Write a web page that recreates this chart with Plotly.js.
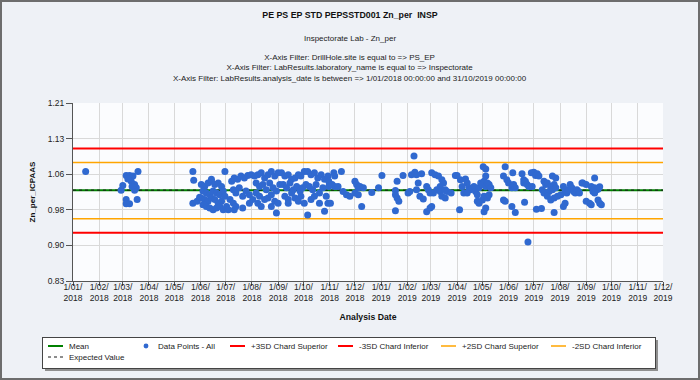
<!DOCTYPE html>
<html><head><meta charset="utf-8">
<script src="https://cdn.plot.ly/plotly-3.0.1.min.js"></script>
<style>html,body{margin:0;padding:0;background:#eef1f6;} #chart{width:700px;height:380px;}</style>
</head><body><div id="chart"></div>
<script>
// ---- Data ----
const startDate = '2018-01-01';
const endDate = '2019-12-01';

const monthTicks = ['2018-01-01','2018-02-01','2018-03-01','2018-04-01','2018-05-01','2018-06-01','2018-07-01','2018-08-01','2018-09-01','2018-10-01','2018-11-01','2018-12-01',
  '2019-01-01','2019-02-01','2019-03-01','2019-04-01','2019-05-01','2019-06-01','2019-07-01','2019-08-01','2019-09-01','2019-10-01','2019-11-01','2019-12-01'];
const monthTickText = ['1/01/<br>2018','1/02/<br>2018','1/03/<br>2018','1/04/<br>2018','1/05/<br>2018','1/06/<br>2018','1/07/<br>2018','1/08/<br>2018','1/09/<br>2018','1/10/<br>2018','1/11/<br>2018','1/12/<br>2018',
  '1/01/<br>2019','1/02/<br>2019','1/03/<br>2019','1/04/<br>2019','1/05/<br>2019','1/06/<br>2019','1/07/<br>2019','1/08/<br>2019','1/09/<br>2019','1/10/<br>2019','1/11/<br>2019','1/12/<br>2019'];

const yTickVals = [0.83, 0.906, 0.982, 1.058, 1.134, 1.21];
const yTickText = ['0.83', '0.90', '0.98', '1.06', '1.13', '1.21'];

// days since 1 Jan 2018 of each analysis
const sampleDay = [
  15,57,59,63,67,71,77,69,73,75,73,63,63,67,76,65,70,142,143,142,147,150,
  152,156,160,164,168,172,176, 154,158,162,166,170,174,178, 152,156,160,164,168,172,176,180, 154,158,162,166,170,174,178,182, 164,180,
  188,191,195,199,203,207,211, 190,193,197,201,205,209, 186,190,193,201,209,213, 184,191,
  215,219,223,227,231,235,239,243, 217,221,225,229,233,237,241,245, 217,221,227,231,235,239,243, 219,223,235,241,
  247,251,255,259,263,267,270,274, 249,253,257,261,265,269,272,276, 251,255,259,263,267,270,274, 255,278,
  278,282,286,290,294,298,302, 280,284,288,292,296,300, 282,286,292,298,302,
  309,310,318,303,307,310,314,303, 320,324,328,305, 334,336,338,340,344,334,338,342, 354,362,366,
  384,382,382,384,386,382, 391,397,399, 401,405,407,413,404, 409,407,411,415, 419,421,423,419,423,425,
  425,429,433,437,439,435,431,427,435,441,437,441,443,448,453,
  455,459,465,467,469,471,461,463,467,458, 475,477,479,481,483,485,487,489,491,493,495, 486,489,489,
  479,481,485,487,491,493, 487,489, 512,510,514,516,520,522,524,521, 510,512,520,524,
  532,534,534,536,538,540,544, 543,546,548,550,552, 535,549,555,539,
  558,560,562,566,570, 556,558,564,568,572, 562,566,570,574,578, 568,572,570,
  581,583,585,587,589,591,593,595,597,599, 581,583,603,
  618,604,608,614,618,620,622,624,616,618,600, 608,612,614,622,624,626
];
const sampleValue = [
  1.064,1.024,1.034,1.055,1.055,1.054,1.064,1.043,1.036,1.029,1.024,1.004,0.995,0.995,1.004,1.048,1.032,1.064,1.045,0.996,1.000,1.009,
  1.036,1.032,1.039,1.043,1.036,1.039,1.032, 1.022,1.018,1.014,1.022,1.018,1.014,1.022, 1.007,1.004,1.000,1.007,1.004,0.996,1.000,1.011, 0.993,0.989,0.986,0.982,0.986,0.989,0.982,0.989, 1.047,1.064,
  1.043,1.050,1.047,1.054,1.050,1.055,1.057, 1.025,1.018,1.029,1.011,1.022,1.014, 1.004,0.996,0.989,0.986,0.996,1.004, 0.982,0.982,
  1.054,1.057,1.061,1.050,1.057,1.064,1.054,1.061, 1.039,1.032,1.036,1.025,1.039,1.029,1.022,1.036, 1.018,1.011,1.004,1.007,1.014,1.000,0.996, 0.996,0.989,0.989,0.975,
  1.061,1.054,1.057,1.047,1.050,1.057,1.054,1.064, 1.036,1.029,1.039,1.025,1.032,1.022,1.029,1.036, 1.011,1.004,1.018,1.007,1.000,1.011,0.996, 0.996,0.971,
  1.064,1.057,1.061,1.050,1.057,1.047,1.054, 1.032,1.025,1.036,1.018,1.029,1.011, 1.004,1.011,0.996,0.979,0.996,
  1.061,1.054,1.064,1.043,1.036,1.032,1.032,1.032, 1.021,1.014,1.011,0.996, 1.043,1.036,1.029,1.032,1.029,1.018,1.014,0.989, 1.019,1.029,1.055,
  1.043,1.023,1.014,1.007,1.000,0.980, 1.055,1.018,1.021, 1.057,1.062,1.057,1.059,1.097, 1.039,1.025,1.011,1.005, 1.032,1.025,1.018,0.978,0.986,0.989,
  1.061,1.057,1.054,1.046,1.039,1.032,1.025,1.018,1.021,1.025,1.011,1.007,1.021,1.018,1.055,
  1.055,1.046,1.048,1.039,1.029,1.025,1.032,1.018,1.018,0.982, 1.032,1.021,1.014,1.029,1.039,1.036,1.043,1.032,1.039,1.036,1.029, 1.074,1.069,1.054,
  1.000,0.996,1.003,1.011,1.007,1.014, 0.978,0.986, 1.074,1.054,1.046,1.039,1.029,1.036,1.029,1.061, 1.003,1.000,0.989,0.976,
  1.059,1.046,1.039,1.043,1.036,1.032,1.032, 1.061,1.062,1.055,1.059,1.054, 0.998,0.983,0.985,0.913,
  1.043,1.036,1.039,1.032,1.036, 1.025,1.018,1.021,1.025,1.029, 1.011,1.003,1.007,1.011,1.014, 1.054,1.050,0.976,
  1.032,1.021,1.018,1.025,1.036,1.029,1.021,1.018,1.025,1.021, 0.989,0.996,1.039,
  1.050,1.039,1.036,1.032,1.029,1.025,1.026,1.031,1.021,1.018,1.018, 1.000,0.996,0.993,1.003,0.996,0.993
];

const meanValue = 1.024;
const expectedValue = 1.024;
const plus3SD = 1.113;
const minus3SD = 0.933;
const plus2SD = 1.083;
const minus2SD = 0.963;

// ---- Build ----
const baseMs = Date.UTC(2018, 0, 1);
const sampleDates = sampleDay.map(d => new Date(baseMs + d * 86400000).toISOString().slice(0, 10));

function hline(name, v, color, width, dash, rank) {
  return {type: 'scatter', mode: 'lines', name: name, x: [startDate, endDate], y: [v, v],
    line: {color: color, width: width, dash: dash}, legendrank: rank, hoverinfo: 'skip'};
}

const traces = [
  hline('+3SD Chard Superior', plus3SD, '#ff0000', 2, 'solid', 3),
  hline('-3SD Chard Inferior', minus3SD, '#ff0000', 2, 'solid', 4),
  hline('+2SD Chard Superior', plus2SD, '#ffa500', 1.5, 'solid', 5),
  hline('-2SD Chard Inferior', minus2SD, '#ffa500', 1.5, 'solid', 6),
  hline('Mean', meanValue, '#008000', 2, 'solid', 1),
  hline('Expected Value', expectedValue, '#1a1a1a', 1, 'dot', 7),
  {type: 'scatter', mode: 'markers', name: 'Data Points - All', x: sampleDates, y: sampleValue,
    marker: {color: '#3069d0', size: 7}, legendrank: 2}
];

const F = 'Liberation Sans, Arial, sans-serif';
const L = 73, T = 103, W = 590, H = 178;
const px = (x) => (x - L) / W;
const py = (y) => (T + H - y) / H;

const layout = {
  width: 700, height: 380,
  margin: {l: L, r: 700 - L - W, t: T, b: 380 - T - H},
  paper_bgcolor: '#eef1f6',
  plot_bgcolor: '#fbfcfe',
  font: {family: F, size: 8.5, color: '#222'},
  title: {text: 'PE PS EP STD PEPSSTD001 Zn_per  INSP', x: 0.5, xref: 'container', xanchor: 'center',
    y: 1 - 15 / 380, yref: 'container', yanchor: 'middle', font: {family: F, size: 8.8, weight: 700, color: '#111'}},
  annotations: [
    {text: 'Inspectorate Lab - Zn_per', xref: 'paper', yref: 'paper', x: px(350), y: py(38),
      xanchor: 'center', yanchor: 'middle', showarrow: false, font: {family: F, size: 8, color: '#222'}},
    {text: 'X-Axis Filter: DrillHole.site is equal to => PS_EP<br>X-Axis Filter: LabResults.laboratory_name is equal to => Inspectorate<br>X-Axis Filter: LabResults.analysis_date is between => 1/01/2018 00:00:00 and 31/10/2019 00:00:00',
      xref: 'paper', yref: 'paper', x: px(350), y: py(68.5), xanchor: 'center', yanchor: 'middle', showarrow: false,
      font: {family: F, size: 8, color: '#222'}}
  ],
  xaxis: {type: 'date', range: [startDate, endDate], tickmode: 'array', tickvals: monthTicks, ticktext: monthTickText,
    tickangle: 0, showgrid: true, gridcolor: '#d9d9d9', gridwidth: 1, showline: true, linecolor: '#555', linewidth: 1,
    ticks: 'outside', ticklen: 4, tickcolor: '#555', ticklabelstandoff: -6, tickfont: {family: F, size: 8.5, color: '#222'}, zeroline: false,
    title: {text: 'Analysis Date', standoff: 11, font: {family: F, size: 8.7, weight: 700, color: '#111'}}},
  yaxis: {range: [0.83, 1.21], tickmode: 'array', tickvals: yTickVals, ticktext: yTickText,
    showgrid: true, gridcolor: '#d9d9d9', gridwidth: 1, showline: true, linecolor: '#555', linewidth: 1,
    ticks: 'outside', ticklen: 6, tickcolor: '#555', tickfont: {family: F, size: 8.5, color: '#222'}, zeroline: false,
    title: {text: 'Zn_per_ICPAAS', standoff: 10, font: {family: F, size: 8, weight: 700, color: '#111'}}},
  showlegend: true,
  legend: {orientation: 'h', x: px(42), xanchor: 'left', y: py(337), yanchor: 'top',
    bgcolor: '#ffffff', bordercolor: '#444', borderwidth: 1, font: {family: F, size: 8, color: '#222'},
    itemwidth: 30, entrywidth: 40, entrywidthmode: 'pixels', traceorder: 'normal'},
  shapes: [
    {type: 'rect', xref: 'paper', yref: 'paper', x0: px(1), x1: px(699), y0: py(379), y1: py(1),
      line: {color: '#6d6d6d', width: 2}, fillcolor: 'rgba(0,0,0,0)', layer: 'above'}
  ]
};

// legend entry placement (text start x, row centre y) to mimic the original legend box
const legendTextStart = {'Mean': 69, 'Data Points - All': 158, '+3SD Chard Superior': 251,
  '-3SD Chard Inferior': 359, '+2SD Chard Superior': 462, '-2SD Chard Inferior': 572, 'Expected Value': 69};
const legendRowY = {'Expected Value': 357};
const legendBox = {x: 42, y: 337, w: 613, h: 31};

Plotly.newPlot('chart', traces, layout, {displayModeBar: false, staticPlot: true}).then(gd => {
  const leg = gd.querySelector('g.legend');
  if (!leg) return;
  leg.querySelectorAll('[clip-path]').forEach(e => e.removeAttribute('clip-path'));
  leg.querySelectorAll('g.traces').forEach(item => {
    const txt = item.querySelector('text.legendtext');
    if (!txt) return;
    const name = txt.textContent.trim();
    const tx = legendTextStart[name];
    if (tx === undefined) return;
    const ty = legendRowY[name] || 346;
    const m = item.parentNode.getScreenCTM();
    item.setAttribute('transform', 'translate(' + (tx - 27 - m.e) + ',' + (ty - m.f) + ')');
    txt.setAttribute('x', 27);
    item.querySelectorAll('path.js-line').forEach(p => p.setAttribute('d', 'M6,0h15'));
    item.querySelectorAll('.legendpoints path').forEach(p => p.setAttribute('transform', 'translate(15,0) scale(0.7)'));
  });
  const bg = leg.querySelector('rect.bg');
  if (bg) {
    const bm = bg.parentNode.getScreenCTM();
    bg.setAttribute('x', legendBox.x + 0.5 - bm.e);
    bg.setAttribute('y', legendBox.y + 0.5 - bm.f);
    bg.setAttribute('width', legendBox.w);
    bg.setAttribute('height', legendBox.h);
    const sh = document.createElementNS('http://www.w3.org/2000/svg', 'rect');
    sh.setAttribute('x', legendBox.x + 3 - bm.e);
    sh.setAttribute('y', legendBox.y + 3 - bm.f);
    sh.setAttribute('width', legendBox.w);
    sh.setAttribute('height', legendBox.h);
    sh.setAttribute('fill', '#8f8f8f');
    bg.parentNode.insertBefore(sh, bg);
  }
});
</script></body></html>
